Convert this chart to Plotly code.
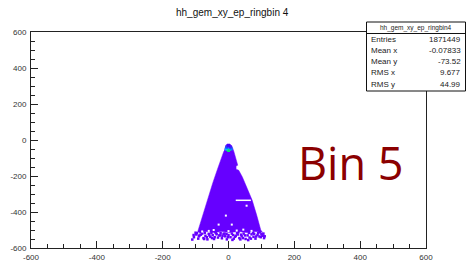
import plotly.graph_objects as go

# ---- data ----
title_text = "hh_gem_xy_ep_ringbin 4"
stats_name = "hh_gem_xy_ep_ringbin4"
stats_labels = ["Entries", "Mean x", "Mean y", "RMS x", "RMS y"]
stats_values = ["1871449", "-0.07833", "-73.52", "9.677", "44.99"]
axis_ticks = [-600, -400, -200, 0, 200, 400, 600]

# outline of the filled (lowest-content) region of the 2D histogram
region_x = [-9, -4, 4, 10, 16, 24, 28, 23, 23, 31, 42, 57, 72, 86, 98, 103,
            80, 55, 30, 5, -20, -45, -70, -94,
            -92, -79, -63, -48, -34, -20, -14]
region_y = [-30, -22, -22, -32, -62, -110, -140, -144, -162, -168, -205, -270, -335, -420, -500, -512,
            -508, -514, -508, -514, -509, -514, -508, -512,
            -500, -420, -320, -240, -165, -95, -62]

# sparse low-content bins below the dense region
sparse_x = [-105, -98, -92, -88, -80, -76, -70, -64, -60, -55, -48, -44, -38, -32, -28, -20,
            -15, -10, -5, 0, 6, 10, 16, 22, 28, 33, 40, 46, 52, 58, 64, 70, 76, 82, 88, 94,
            100, 105, 108, -100, -85, -66, -40, 30, 75, 95, -110, 110, -50, 12, 60, -25,
            -96, -84, -72, -58, -36, -24, -12, -2, 14, 26, 38, 50, 62, 78, 90, 102, -90, -52,
            -18, 20, 44, 84, -106, 106, -74, -42, -6, 36, 68, 98]
sparse_y = [-540, -525, -548, -530, -520, -545, -532, -552, -522, -538, -528, -550, -518, -542, -530, -546,
            -522, -535, -552, -528, -540, -520, -548, -532, -525, -545, -535, -520, -550, -530, -542, -524, -538, -548, -528, -536,
            -522, -532, -545, -515, -512, -540, -512, -512, -515, -512, -553, -535, -545, -555, -556, -530,
            -518, -526, -515, -530, -524, -518, -520, -540, -528, -518, -526, -530, -516, -522, -518, -526, -535, -516,
            -532, -538, -545, -536, -528, -520, -550, -540, -522, -552, -548, -540]

# higher-content bins near the apex
peak_x = [-3, 3, 0, -7, 8, 0, -5, 5, 0]
peak_y = [-52, -52, -58, -50, -50, -42, -40, -40, -32]
peak_c = ["#22ff22", "#55ff33", "#00ee66", "#00bbff", "#0088ff", "#00ccff", "#2244ff", "#3322ff", "#4400ff"]

# empty bins (white gaps) inside the region
gap_x = [22, 68]
gap_y = [-335, -335]
hole_x = [-8, 55, -30, 10, -60, -45, 25, 70, -80, 0, 45]
hole_y = [-420, -365, -470, -470, -505, -500, -503, -505, -508, -506, -498]

purple = "#6600ff"

fig = go.Figure()
fig.add_trace(go.Scatter(x=region_x, y=region_y, fill="toself", fillcolor=purple,
                         mode="lines", line=dict(width=0.5, color=purple), hoverinfo="skip"))
fig.add_trace(go.Scatter(x=sparse_x, y=sparse_y, mode="markers",
                         marker=dict(symbol="square", size=2.5, color=purple, line=dict(width=0))))
fig.add_trace(go.Scatter(x=peak_x, y=peak_y, mode="markers",
                         marker=dict(symbol="square", size=3, color=peak_c, line=dict(width=0))))
fig.add_trace(go.Scatter(x=gap_x, y=gap_y, mode="lines", line=dict(color="white", width=1.5)))
fig.add_trace(go.Scatter(x=hole_x, y=hole_y, mode="markers",
                         marker=dict(symbol="square", size=2, color="white", line=dict(width=0))))

L, R, T, B = 31, 41, 32, 15
W, H = 467, 263
pw, ph = W - L - R, H - T - B

def px(xp):
    return (xp - L) / pw

def py(yp):
    return (H - B - yp) / ph

axis_common = dict(
    range=[-600, 600], tickvals=axis_ticks, ticktext=[str(v) for v in axis_ticks],
    ticks="inside", ticklen=7, tickwidth=1, tickcolor="#222",
    minor=dict(dtick=50, ticks="inside", ticklen=4, tickwidth=1, tickcolor="#222"),
    showline=True, linecolor="#222", linewidth=1, mirror=True,
    showgrid=False, zeroline=False, automargin=False,
    tickfont=dict(family="Liberation Sans, Arial", size=8, color="#333"),
)

fig.update_layout(
    width=W, height=H, margin=dict(l=L, r=R, t=T, b=B, autoexpand=False),
    paper_bgcolor="white", plot_bgcolor="white", showlegend=False,
    xaxis=dict(**axis_common, ticklabelstandoff=1),
    yaxis=dict(**axis_common, ticklabelstandoff=2),
)

anns = [
    dict(text=title_text, x=px(233), y=py(12), xref="paper", yref="paper",
         xanchor="center", yanchor="middle", showarrow=False,
         font=dict(family="Liberation Sans, Arial", size=10, color="#111")),
    dict(text="Bin 5", x=px(350), y=py(162), xref="paper", yref="paper",
         xanchor="center", yanchor="middle", showarrow=False,
         font=dict(family="Open Sans", size=45, color="#8b0000")),
    dict(text=stats_name, x=px(415.5), y=py(27.5), xref="paper", yref="paper",
         xanchor="center", yanchor="middle", showarrow=False,
         font=dict(family="Liberation Sans, Arial", size=6.5, color="#222")),
]
row_y = [39, 50.5, 61.5, 72.5, 84]
for lab, val, yy in zip(stats_labels, stats_values, row_y):
    anns.append(dict(text=lab, x=px(369), y=py(yy), xref="paper", yref="paper",
                     xanchor="left", yanchor="middle", showarrow=False,
                     font=dict(family="Liberation Sans, Arial", size=8, color="#222")))
    anns.append(dict(text=val, x=px(463), y=py(yy), xref="paper", yref="paper",
                     xanchor="right", yanchor="middle", showarrow=False,
                     font=dict(family="Liberation Sans, Arial", size=8, color="#222")))
fig.update_layout(annotations=anns)

fig.update_layout(shapes=[
    dict(type="rect", xref="paper", yref="paper", x0=px(366.5), x1=px(465.5), y0=py(91), y1=py(22),
         line=dict(color="#111", width=1), fillcolor="white", layer="above"),
    dict(type="line", xref="paper", yref="paper", x0=px(366.5), x1=px(465.5), y0=py(33.5), y1=py(33.5),
         line=dict(color="#111", width=1), layer="above"),
])

fig.write_html("out.html", post_script="document.body.style.margin='0';",
               config={"displayModeBar": False})
